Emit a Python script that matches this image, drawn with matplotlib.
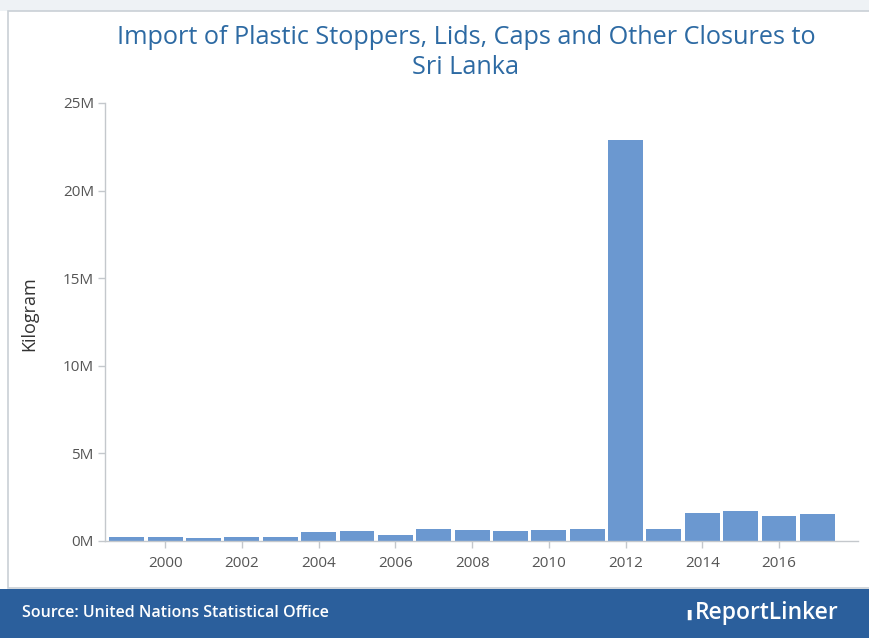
import matplotlib.pyplot as plt
from matplotlib.patches import Rectangle

years = list(range(1999, 2018))
kilograms = [0.20e6, 0.20e6, 0.18e6, 0.20e6, 0.22e6, 0.50e6, 0.57e6, 0.36e6,
             0.67e6, 0.65e6, 0.58e6, 0.65e6, 0.70e6, 22.9e6, 0.68e6,
             1.60e6, 1.70e6, 1.43e6, 1.55e6]
ytick_vals = [0, 5e6, 10e6, 15e6, 20e6, 25e6]
ytick_labels = ['0M', '5M', '10M', '15M', '20M', '25M']
xtick_vals = list(range(2000, 2017, 2))

plt.rcParams['font.family'] = ['Open Sans', 'DejaVu Sans']

fig = plt.figure(figsize=(8.7, 6.38), dpi=100)
W, H = 870, 638

# background frame bits
fig.patches.append(Rectangle((0, 1 - 11 / H), 1, 11 / H, transform=fig.transFigure,
                             facecolor='#eef2f5', edgecolor='none', zorder=-5))
fig.patches.append(Rectangle((8 / W, 50 / H), 1, 1 - 61 / H, transform=fig.transFigure,
                             facecolor='white', edgecolor='#c9d0d6', linewidth=1.2, zorder=-5))
# footer band
fig.patches.append(Rectangle((0, 0), 1, 49 / H, transform=fig.transFigure,
                             facecolor='#2b5f9c', edgecolor='none', zorder=-5))

ax = fig.add_axes([105 / W, 1 - 541 / H, (858 - 105) / W, (541 - 103) / H])
ax.set_zorder(5)
ax.patch.set_alpha(0)
ax.bar(years, kilograms, width=0.91, color='#6b98d0')

ax.set_xlim(1998.43, 2018.06)
ax.set_ylim(0, 25e6)
ax.set_yticks(ytick_vals)
ax.set_yticklabels(ytick_labels)
ax.set_xticks(xtick_vals)
ax.set_xticklabels([str(y) for y in xtick_vals])

for s in ['top', 'right']:
    ax.spines[s].set_visible(False)
for s in ['left', 'bottom']:
    ax.spines[s].set_color('#c4c8cc')
    ax.spines[s].set_linewidth(1)
ax.tick_params(axis='both', colors='#c4c8cc', labelcolor='#555555', labelsize=11,
               length=5, width=1)
ax.tick_params(axis='x', pad=6)
ax.tick_params(axis='y', pad=3)
ax.set_ylabel('Kilogram', fontsize=13, color='#333333')
ax.yaxis.set_label_coords(-(105 - 38) / (858 - 105), (541 - 314) / (541 - 103))

fig.text(466 / W, 1 - 37 / H, 'Import of Plastic Stoppers, Lids, Caps and Other Closures to',
         ha='center', va='center', fontsize=18.2, color='#2d6aa3')
fig.text(466 / W, 1 - 68 / H, 'Sri Lanka',
         ha='center', va='center', fontsize=18.2, color='#2d6aa3')

fig.text(22 / W, 1 - 613 / H, 'Source: United Nations Statistical Office',
         ha='left', va='center', fontsize=11.5, color='white', fontweight='semibold')
fig.text(839 / W, 1 - 613 / H, 'ReportLinker',
         ha='right', va='center', fontsize=16.5, color='white', fontweight='semibold')
fig.text(691 / W, 1 - 615 / H, '\u2590',
         ha='right', va='center', fontsize=7, color='white')

fig.savefig('out.png', dpi=100)
